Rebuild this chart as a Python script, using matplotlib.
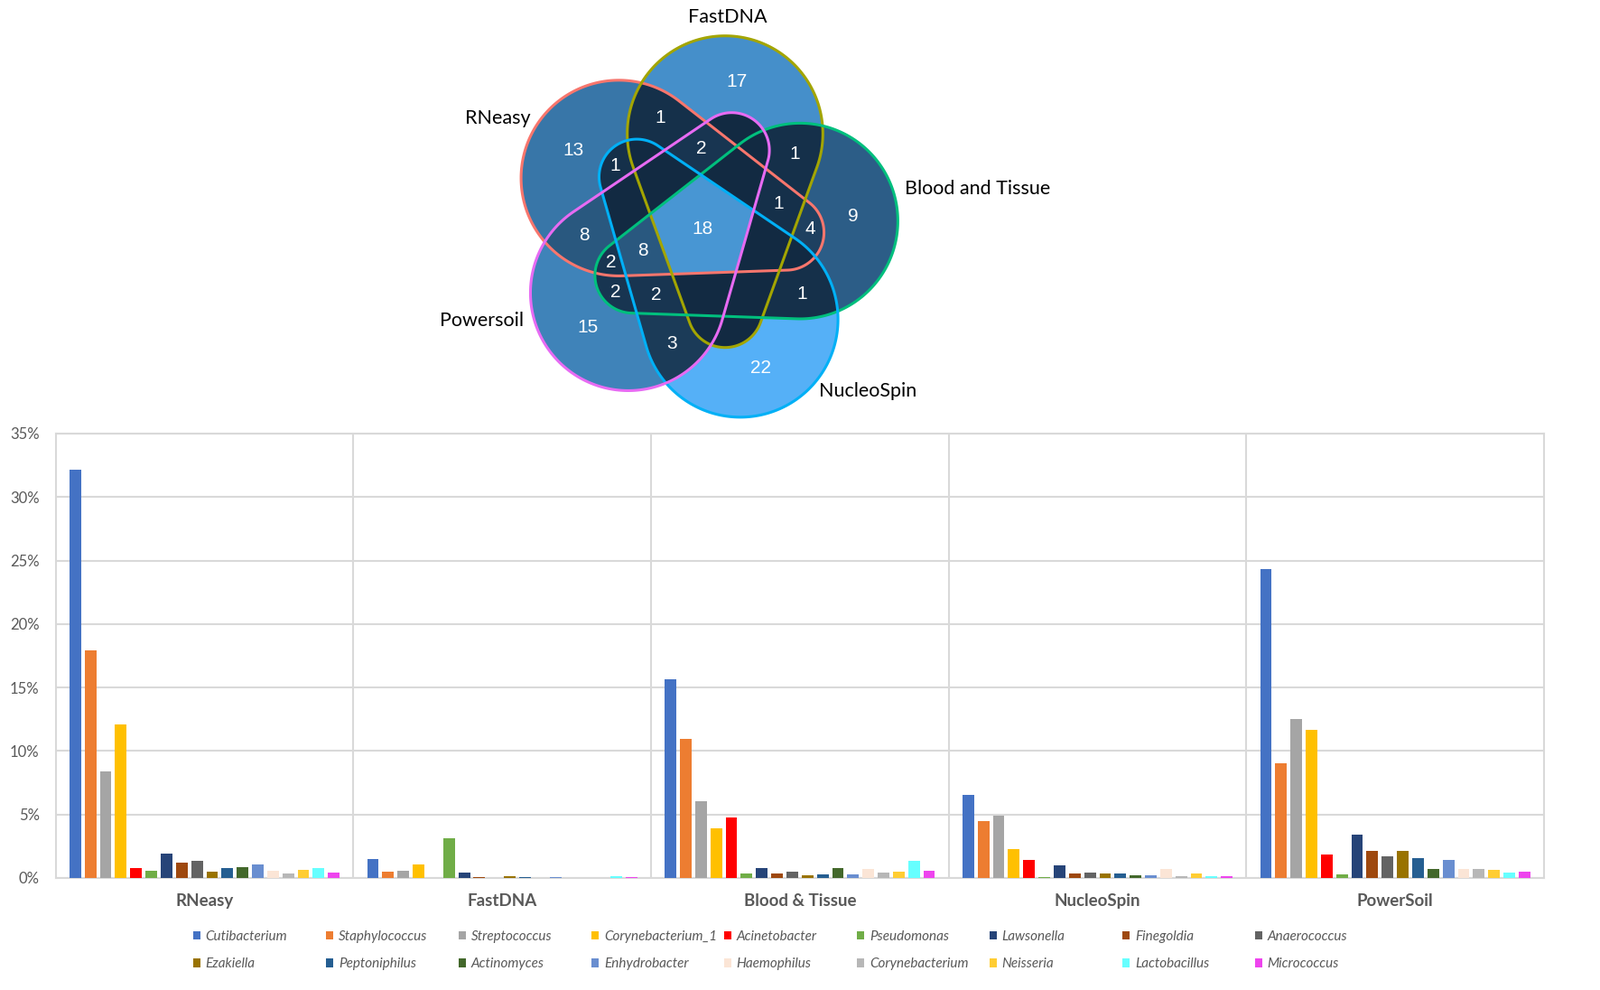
import numpy as np
import matplotlib
matplotlib.use("Agg")
import matplotlib.pyplot as plt
from matplotlib.patches import Patch, Polygon
from matplotlib import colors as mcolors

# ---------------- data ----------------
methods = ["RNeasy", "FastDNA", "Blood & Tissue", "NucleoSpin", "PowerSoil"]
genera = ["Cutibacterium", "Staphylococcus", "Streptococcus", "Corynebacterium_1",
          "Acinetobacter", "Pseudomonas", "Lawsonella", "Finegoldia", "Anaerococcus",
          "Ezakiella", "Peptoniphilus", "Actinomyces", "Enhydrobacter", "Haemophilus",
          "Corynebacterium", "Neisseria", "Lactobacillus", "Micrococcus"]
rneasy = [32.15, 17.92, 8.40, 12.07, 0.76, 0.54, 1.95, 1.18, 1.33, 0.48, 0.76, 0.86,
          1.09, 0.56, 0.36, 0.64, 0.76, 0.43]
fastdna = [1.47, 0.50, 0.55, 1.04, 0.0, 3.10, 0.45, 0.10, 0.0, 0.14, 0.10, 0.0,
           0.07, 0.0, 0.0, 0.0, 0.12, 0.10]
blood_tissue = [15.65, 10.99, 6.03, 3.89, 4.76, 0.36, 0.76, 0.36, 0.48, 0.20, 0.30, 0.76,
                0.30, 0.74, 0.46, 0.51, 1.35, 0.56]
nucleospin = [6.56, 4.50, 4.88, 2.29, 1.40, 0.10, 0.98, 0.36, 0.41, 0.33, 0.33, 0.20,
              0.20, 0.69, 0.15, 0.36, 0.15, 0.12]
powersoil = [24.30, 9.03, 12.50, 11.70, 1.83, 0.25, 3.43, 2.11, 1.70, 2.11, 1.58, 0.69,
             1.45, 0.69, 0.69, 0.61, 0.43, 0.48]
y_ticks = [0, 5, 10, 15, 20, 25, 30, 35]

genus_colors = ["#4472C4", "#ED7D31", "#A5A5A5", "#FFC000", "#FF0000", "#70AD47",
                "#264478", "#9E480E", "#636363", "#997300", "#255E91", "#43682B",
                "#698ED0", "#FBE5D6", "#B7B7B7", "#FFCD33", "#66FFFF", "#EE44EE"]

# Venn: sets (letters A=RNeasy, F=FastDNA, B=Blood and Tissue, N=NucleoSpin, P=Powersoil)
venn_sets = ["RNeasy", "FastDNA", "Blood and Tissue", "NucleoSpin", "Powersoil"]
venn_letters = "AFBNP"
venn_edge_colors = ["#F8766D", "#A3A500", "#00BF7D", "#00B0F6", "#E76BF3"]
# non-empty regions (all other intersections are 0)
venn_regions = ["A", "F", "B", "N", "P", "AF", "AN", "AFP", "FB", "AFB", "AB", "AP",
                "ABP", "ABNP", "BP", "BNP", "BN", "NP", "AFBNP"]
venn_counts = [13, 17, 9, 22, 15, 1, 1, 2, 1, 1, 4, 8, 2, 8, 2, 2, 1, 3, 18]
fill_low, fill_high = "#132B43", "#56B1F7"

# ---------------- figure ----------------
W, H = 1772, 1096
fig = plt.figure(figsize=(W / 100, H / 100), dpi=100)
GRAY = "#595959"
GRID = "#D9D9D9"

ax = fig.add_axes([61.7 / W, 1 - 972 / H, (1710 - 61.7) / W, (972 - 480) / H])
series = np.array([rneasy, fastdna, blood_tissue, nucleospin, powersoil])
n_g = len(genera)
pitch, bw = 0.0511, 0.039
xc = np.arange(len(methods))
for i, g in enumerate(genera):
    ax.bar(xc + (i - (n_g - 1) / 2) * pitch, series[:, i], width=bw,
           color=genus_colors[i], label=g, zorder=3)
ax.set_xlim(-0.5, len(methods) - 0.5)
ax.set_ylim(0, 35)
ax.set_yticks(y_ticks)
ax.set_yticklabels([f"{v}%" for v in y_ticks], fontfamily="Lato", fontsize=12, color=GRAY)
ax.set_xticks(xc)
ax.set_xticklabels(methods, fontfamily="Lato", fontweight="bold", fontsize=13.5, color=GRAY)
ax.set_xticks(np.arange(0.5, len(methods) - 0.5, 1), minor=True)
ax.tick_params(axis="both", which="both", length=0)
ax.tick_params(axis="y", pad=13)
ax.tick_params(axis="x", pad=12)
ax.grid(axis="y", which="major", color=GRID, lw=1.5, zorder=0)
ax.grid(axis="x", which="minor", color=GRID, lw=1.5, zorder=0)
ax.grid(axis="x", which="major", visible=False)
for s in ax.spines.values():
    s.set_color(GRID)
    s.set_linewidth(1.5)

# legend: 9 columns x 2 rows
handles = [Patch(facecolor=c, edgecolor="none") for c in genus_colors]
for k in range(9):
    x_left = 214 + k * 147
    fig.legend([handles[k], handles[k + 9]], [genera[k], genera[k + 9]],
               loc="upper left", bbox_to_anchor=(x_left / W, 1 - 1030 / H),
               frameon=False, prop={"family": "Lato", "style": "italic", "size": 11},
               labelcolor=GRAY, handlelength=0.5, handleheight=0.6, handletextpad=0.4,
               labelspacing=1.05, borderpad=0, borderaxespad=0)

# ---------------- Venn diagram ----------------
axv = fig.add_axes([0, 0, 1, 1])
axv.set_xlim(0, W)
axv.set_ylim(H, 0)
axv.axis("off")
axv.patch.set_alpha(0)

C = np.array([778.0, 253.5])
R1, R2 = 108.3, 41.7
base_big = np.array([25.0, -105.5])
base_small = np.array([25.0, 89.5])
angles = [288, 0, 72, 144, 216]


def rot(v, deg):
    t = np.deg2rad(deg)
    return np.array([np.cos(t) * v[0] - np.sin(t) * v[1], np.sin(t) * v[0] + np.cos(t) * v[1]])


shapes = [(C + rot(base_big, a), C + rot(base_small, a)) for a in angles]


def sd_shape(X, Y, bc, sc, r1, r2):
    d = sc - bc
    h = np.hypot(*d)
    u = d / h
    n = np.array([-u[1], u[0]])
    px = np.abs((X - bc[0]) * n[0] + (Y - bc[1]) * n[1])
    py = (X - bc[0]) * u[0] + (Y - bc[1]) * u[1]
    b = (r1 - r2) / h
    a = np.sqrt(1 - b * b)
    k = -b * px + a * py
    return np.where(k < 0, np.hypot(px, py) - r1,
                    np.where(k > a * h, np.hypot(px, py - h) - r2, a * px + b * py - r1))


def outline(bc, sc, r1, r2, npts=200):
    d = sc - bc
    h = np.hypot(*d)
    u = d / h
    n = np.array([-u[1], u[0]])
    al = np.arcsin((r1 - r2) / h)
    p1 = np.linspace(al, np.pi - al, npts)
    p2 = np.linspace(np.pi - al, 2 * np.pi + al, npts)
    pts1 = sc[None, :] + r2 * (np.cos(p1)[:, None] * n + np.sin(p1)[:, None] * u)
    pts2 = bc[None, :] + r1 * (np.cos(p2)[:, None] * n + np.sin(p2)[:, None] * u)
    return np.vstack([pts1, pts2])


# CIELAB interpolation (as in ggplot2 continuous fill scale)
WHITE = np.array([0.95047, 1.0, 1.08883])
M = np.array([[0.4124564, 0.3575761, 0.1804375],
              [0.2126729, 0.7151522, 0.0721750],
              [0.0193339, 0.1191920, 0.9503041]])


def to_lab(hexc):
    rgb = np.array(mcolors.to_rgb(hexc))
    lin = np.where(rgb <= 0.04045, rgb / 12.92, ((rgb + 0.055) / 1.055) ** 2.4)
    t = (M @ lin) / WHITE
    e = 6 / 29
    f = np.where(t > e ** 3, np.cbrt(t), t / (3 * e * e) + 4 / 29)
    return np.array([116 * f[1] - 16, 500 * (f[0] - f[1]), 200 * (f[1] - f[2])])


def from_lab(lab):
    L, a, b = lab
    fy = (L + 16) / 116
    fx = fy + a / 500
    fz = fy - b / 200
    e = 6 / 29
    f = np.array([fx, fy, fz])
    t = np.where(f > e, f ** 3, 3 * e * e * (f - 4 / 29)) * WHITE
    lin = np.linalg.solve(M, t)
    lin = np.clip(lin, 0, 1)
    rgb = np.where(lin <= 0.0031308, 12.92 * lin, 1.055 * lin ** (1 / 2.4) - 0.055)
    return np.clip(rgb, 0, 1)


lab_lo, lab_hi = to_lab(fill_low), to_lab(fill_high)
cmax = max(venn_counts)

x0, x1, y0, y1 = 560, 1010, 30, 480
step = 0.5
xs = np.arange(x0, x1, step) + step / 2
ys = np.arange(y0, y1, step) + step / 2
X, Y = np.meshgrid(xs, ys)
sds = np.array([sd_shape(X, Y, bc, sc, R1, R2) for bc, sc in shapes])
code = np.zeros(X.shape, dtype=int)
for k in range(5):
    code |= (sds[k] < 0).astype(int) << k
edge_dist = np.min(np.abs(sds), axis=0)


def code_of(s):
    return sum(1 << venn_letters.index(ch) for ch in s)


count_by_code = {c: 0 for c in range(1, 32)}
for reg, cnt in zip(venn_regions, venn_counts):
    count_by_code[code_of(reg)] = cnt

img = np.zeros(X.shape + (4,))
for c in range(1, 32):
    m = code == c
    if not m.any():
        continue
    frac = count_by_code[c] / cmax
    rgb = from_lab(lab_lo + (lab_hi - lab_lo) * frac)
    img[m, :3] = rgb
    img[m, 3] = 1.0
axv.imshow(img, extent=(x0, x1, y1, y0), origin="upper", interpolation="antialiased", zorder=1)

for reg, cnt in zip(venn_regions, venn_counts):
    m = code == code_of(reg)
    cx, cy = X[m].mean(), Y[m].mean()
    j = np.argmin(np.hypot(X - cx, Y - cy))
    if not (m.flat[j] and edge_dist.flat[j] > 9):
        j = np.argmax(np.where(m, edge_dist, -1))
        cx, cy = X.flat[j], Y.flat[j]
    axv.text(cx, cy, str(cnt), color="white", fontsize=15, ha="center", va="center",
             zorder=4, fontfamily="Liberation Sans")

for (bc, sc), ec in zip(shapes, venn_edge_colors):
    axv.add_patch(Polygon(outline(bc, sc, R1, R2), closed=True, fill=False,
                          edgecolor=ec, lw=2.2, zorder=3))

lab_kw = dict(fontfamily="Lato", fontsize=15.5, color="black", va="center")
axv.text(806, 19, venn_sets[1], ha="center", **lab_kw)
axv.text(588, 131, venn_sets[0], ha="right", **lab_kw)
axv.text(1002, 209, venn_sets[2], ha="left", **lab_kw)
axv.text(907, 433, venn_sets[3], ha="left", **lab_kw)
axv.text(580, 355, venn_sets[4], ha="right", **lab_kw)

fig.savefig("out.png", dpi=100)
